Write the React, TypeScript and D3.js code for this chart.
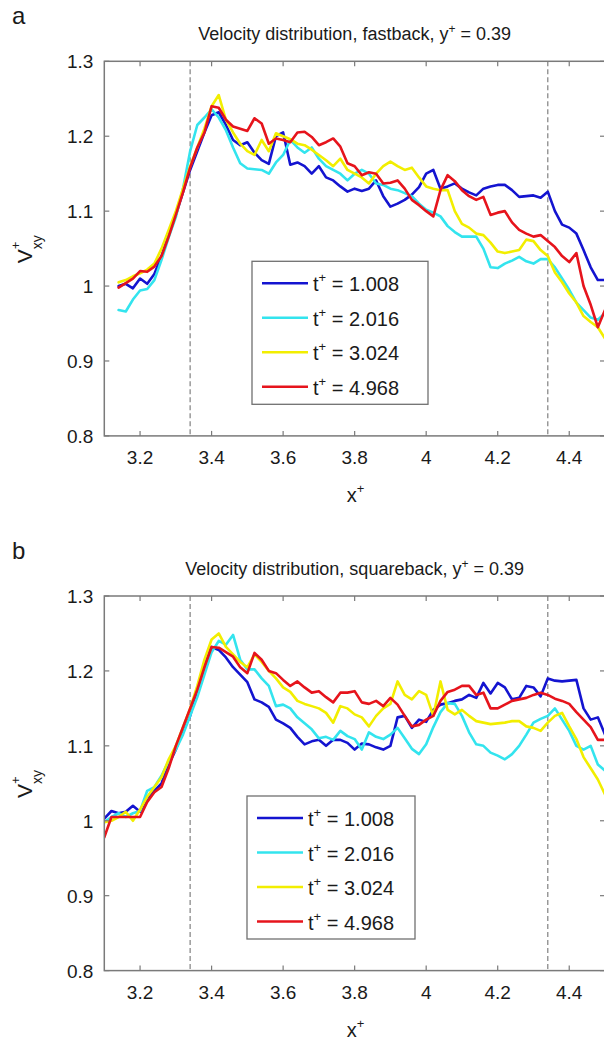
import React from "react";
import * as d3 from "d3";

// ---------- data ----------
const X_TOP = [3.14, 3.16, 3.18, 3.2, 3.22, 3.24, 3.26, 3.28, 3.3, 3.32, 3.34, 3.36, 3.38, 3.4, 3.42, 3.44, 3.46, 3.48, 3.5, 3.52, 3.54, 3.56, 3.58, 3.6, 3.62, 3.64, 3.66, 3.68, 3.7, 3.72, 3.74, 3.76, 3.78, 3.8, 3.82, 3.84, 3.86, 3.88, 3.9, 3.92, 3.94, 3.96, 3.98, 4.0, 4.02, 4.04, 4.06, 4.08, 4.1, 4.12, 4.14, 4.16, 4.18, 4.2, 4.22, 4.24, 4.26, 4.28, 4.3, 4.32, 4.34, 4.36, 4.38, 4.4, 4.42, 4.44, 4.46, 4.48, 4.5];

const TOP_T1 = [1.000, 1.003, 0.997, 1.010, 1.003, 1.016, 1.040, 1.068, 1.095, 1.125,
  1.155, 1.180, 1.205, 1.228, 1.232, 1.215, 1.195, 1.188, 1.192, 1.178,
  1.168, 1.163, 1.200, 1.205, 1.162, 1.165, 1.160, 1.150, 1.160, 1.145,
  1.141, 1.133, 1.126, 1.130, 1.127, 1.130, 1.141, 1.120, 1.106, 1.110,
  1.115, 1.122, 1.132, 1.150, 1.155, 1.130, 1.133, 1.137, 1.130, 1.125,
  1.121, 1.130, 1.133, 1.135, 1.135, 1.128, 1.119, 1.120, 1.121, 1.118,
  1.126, 1.100, 1.082, 1.078, 1.070, 1.048, 1.025, 1.008, 1.008];
const TOP_T2 = [0.968, 0.966, 0.982, 0.994, 0.996, 1.008, 1.035, 1.065, 1.092, 1.130,
  1.180, 1.215, 1.225, 1.236, 1.225, 1.208, 1.185, 1.164, 1.157, 1.156,
  1.155, 1.150, 1.165, 1.175, 1.195, 1.185, 1.178, 1.185, 1.170, 1.160,
  1.155, 1.150, 1.141, 1.150, 1.155, 1.150, 1.137, 1.135, 1.130, 1.128,
  1.124, 1.120, 1.110, 1.102, 1.098, 1.093, 1.080, 1.072, 1.066, 1.066,
  1.066, 1.050, 1.025, 1.024, 1.030, 1.034, 1.039, 1.033, 1.030, 1.036,
  1.036, 1.025, 1.010, 0.995, 0.978, 0.968, 0.958, 0.955, 0.964];
const TOP_T3 = [1.005, 1.008, 1.013, 1.017, 1.022, 1.030, 1.050, 1.075, 1.100, 1.130,
  1.160, 1.185, 1.210, 1.240, 1.255, 1.222, 1.205, 1.190, 1.180, 1.175,
  1.195, 1.180, 1.204, 1.200, 1.196, 1.190, 1.188, 1.182, 1.175, 1.168,
  1.160, 1.170, 1.155, 1.150, 1.145, 1.137, 1.150, 1.160, 1.166, 1.160,
  1.155, 1.158, 1.145, 1.133, 1.130, 1.128, 1.128, 1.100, 1.083, 1.078,
  1.070, 1.068, 1.058, 1.046, 1.044, 1.046, 1.048, 1.062, 1.060, 1.048,
  1.040, 1.018, 1.005, 0.990, 0.978, 0.960, 0.952, 0.945, 0.930];
const TOP_T4 = [0.998, 1.004, 1.010, 1.020, 1.019, 1.026, 1.040, 1.066, 1.095, 1.125,
  1.158, 1.185, 1.205, 1.240, 1.238, 1.222, 1.213, 1.210, 1.207, 1.224,
  1.217, 1.190, 1.197, 1.195, 1.192, 1.205, 1.206, 1.199, 1.188, 1.192,
  1.197, 1.186, 1.164, 1.160, 1.148, 1.152, 1.150, 1.137, 1.138, 1.141,
  1.130, 1.115, 1.108, 1.100, 1.093, 1.128, 1.148, 1.140, 1.128, 1.120,
  1.115, 1.119, 1.095, 1.098, 1.100, 1.085, 1.075, 1.070, 1.066, 1.068,
  1.060, 1.052, 1.040, 1.032, 1.044, 1.000, 0.975, 0.945, 0.968];

const X_BOTTOM = [3.1, 3.12, 3.14, 3.16, 3.18, 3.2, 3.22, 3.24, 3.26, 3.28, 3.3, 3.32, 3.34, 3.36, 3.38, 3.4, 3.42, 3.44, 3.46, 3.48, 3.5, 3.52, 3.54, 3.56, 3.58, 3.6, 3.62, 3.64, 3.66, 3.68, 3.7, 3.72, 3.74, 3.76, 3.78, 3.8, 3.82, 3.84, 3.86, 3.88, 3.9, 3.92, 3.94, 3.96, 3.98, 4.0, 4.02, 4.04, 4.06, 4.08, 4.1, 4.12, 4.14, 4.16, 4.18, 4.2, 4.22, 4.24, 4.26, 4.28, 4.3, 4.32, 4.34, 4.36, 4.38, 4.4, 4.42, 4.44, 4.46, 4.48, 4.5];

const BOT_T1 = [1.003, 1.013, 1.010, 1.012, 1.020, 1.012, 1.030, 1.040, 1.050, 1.075, 1.095,
  1.120, 1.140, 1.175, 1.205, 1.232, 1.228, 1.218, 1.205, 1.195, 1.185,
  1.162, 1.158, 1.152, 1.135, 1.130, 1.124, 1.112, 1.102, 1.106, 1.108,
  1.100, 1.108, 1.108, 1.104, 1.095, 1.103, 1.102, 1.098, 1.095, 1.100,
  1.138, 1.140, 1.124, 1.135, 1.132, 1.148, 1.155, 1.157, 1.160, 1.162,
  1.168, 1.164, 1.184, 1.170, 1.184, 1.178, 1.162, 1.164, 1.180, 1.178,
  1.166, 1.190, 1.187, 1.186, 1.187, 1.188, 1.150, 1.135, 1.138, 1.115];
const BOT_T2 = [0.998, 1.005, 1.010, 1.005, 1.010, 1.013, 1.040, 1.045, 1.060, 1.080, 1.095,
  1.115, 1.140, 1.165, 1.195, 1.225, 1.240, 1.235, 1.248, 1.215, 1.202,
  1.202, 1.190, 1.180, 1.153, 1.155, 1.150, 1.138, 1.130, 1.122, 1.110,
  1.112, 1.108, 1.120, 1.113, 1.109, 1.095, 1.118, 1.112, 1.109, 1.115,
  1.124, 1.110, 1.096, 1.089, 1.102, 1.125, 1.145, 1.157, 1.156, 1.140,
  1.118, 1.102, 1.100, 1.091, 1.087, 1.082, 1.089, 1.100, 1.115, 1.131,
  1.136, 1.140, 1.150, 1.135, 1.120, 1.100, 1.095, 1.100, 1.075, 1.067];
const BOT_T3 = [0.998, 1.000, 1.005, 1.012, 1.000, 1.015, 1.032, 1.045, 1.058, 1.082, 1.100,
  1.125, 1.150, 1.180, 1.215, 1.242, 1.250, 1.232, 1.222, 1.212, 1.205,
  1.222, 1.212, 1.200, 1.190, 1.178, 1.172, 1.160, 1.156, 1.153, 1.150,
  1.144, 1.131, 1.153, 1.150, 1.142, 1.138, 1.126, 1.140, 1.150, 1.156,
  1.186, 1.168, 1.162, 1.173, 1.168, 1.140, 1.186, 1.148, 1.142, 1.148,
  1.140, 1.133, 1.131, 1.129, 1.130, 1.131, 1.133, 1.133, 1.126, 1.124,
  1.120, 1.131, 1.140, 1.144, 1.126, 1.109, 1.085, 1.070, 1.055, 1.035];
const BOT_T4 = [0.978, 1.005, 1.005, 1.005, 1.005, 1.005, 1.025, 1.038, 1.045, 1.070, 1.100,
  1.125, 1.150, 1.175, 1.205, 1.232, 1.231, 1.225, 1.219, 1.205, 1.197,
  1.224, 1.215, 1.200, 1.197, 1.188, 1.180, 1.186, 1.178, 1.171, 1.173,
  1.165, 1.158, 1.171, 1.171, 1.173, 1.158, 1.156, 1.160, 1.153, 1.164,
  1.155, 1.140, 1.126, 1.128, 1.135, 1.140, 1.160, 1.172, 1.175, 1.180,
  1.180, 1.168, 1.171, 1.150, 1.150, 1.155, 1.160, 1.162, 1.164, 1.168,
  1.171, 1.168, 1.163, 1.160, 1.156, 1.145, 1.135, 1.125, 1.108, 1.108];

const SERIES_LABELS = ["1.008", "2.016", "3.024", "4.968"];
const X_TICKS = [3.2, 3.4, 3.6, 3.8, 4.0, 4.2, 4.4];
const X_TICK_LABELS = ["3.2", "3.4", "3.6", "3.8", "4", "4.2", "4.4"];
const Y_TICKS = [0.8, 0.9, 1.0, 1.1, 1.2, 1.3];
const Y_TICK_LABELS = ["0.8", "0.9", "1", "1.1", "1.2", "1.3"];
const REF_LINES = [3.34, 4.34];
const X_DOMAIN = [3.1, 4.5];
const Y_DOMAIN = [0.8, 1.3];

// ---------- styles ----------
const COLORS = ["#1414d0", "#33e4ee", "#f2ee00", "#e6141c"];
const FONT = "'Liberation Sans', Arial, Helvetica, sans-serif";
const AXIS_COLOR = "#7a7a7a";
const TEXT_COLOR = "#1a1a1a";

const PLOT_LEFT = 104.3;
const PLOT_RIGHT = 605;
const PLOT_H = 374.6;

type PanelProps = {
  top: number;
  letter: string;
  title: string;
  xs: number[];
  series: number[][];
  legendLeft: number;
  legendRight: number;
  id: string;
};

function Panel({ top, letter, title, xs, series, legendLeft, legendRight, id }: PanelProps) {
  const x = d3.scaleLinear().domain(X_DOMAIN).range([PLOT_LEFT, PLOT_RIGHT]);
  const y = d3.scaleLinear().domain(Y_DOMAIN).range([top + PLOT_H, top]);
  const bottom = top + PLOT_H;
  const line = d3
    .line<[number, number]>()
    .x((d) => x(d[0]))
    .y((d) => y(d[1]));
  const cx = (PLOT_LEFT + PLOT_RIGHT) / 2;
  const tick = 5;

  const legTop = top + 200;
  const legBottom = top + 343;
  const rowY = (i: number) => top + 222 + i * 34.5;

  return (
    <g>
      <defs>
        <clipPath id={id}>
          <rect x={PLOT_LEFT} y={top} width={PLOT_RIGHT - PLOT_LEFT} height={PLOT_H} />
        </clipPath>
      </defs>
      <text x={12} y={top - 37} fontSize={24} fontFamily={FONT} fill={TEXT_COLOR}>
        {letter}
      </text>
      <text x={cx} y={top - 21} fontSize={18} fontFamily={FONT} fill={TEXT_COLOR} textAnchor="middle">
        {title}
        <tspan dy={-7} fontSize={12}>+</tspan>
        <tspan dy={7}> = 0.39</tspan>
      </text>

      {/* reference dashed lines */}
      {REF_LINES.map((v) => (
        <line key={v} x1={x(v)} x2={x(v)} y1={top} y2={bottom} stroke="#8a8a8a" strokeWidth={1.3} strokeDasharray="5,3" />
      ))}

      {/* data lines */}
      <g clipPath={`url(#${id})`}>
        {series.map((vals, i) => (
          <path
            key={i}
            d={line(xs.map((xv, j) => [xv, vals[j]] as [number, number])) || ""}
            fill="none"
            stroke={COLORS[i]}
            strokeWidth={2.6}
            strokeLinejoin="round"
            strokeLinecap="round"
          />
        ))}
      </g>

      {/* frame */}
      <rect x={PLOT_LEFT} y={top} width={PLOT_RIGHT - PLOT_LEFT} height={PLOT_H} fill="none" stroke={AXIS_COLOR} strokeWidth={1.5} />

      {/* x ticks */}
      {X_TICKS.map((v, i) => (
        <g key={v}>
          <line x1={x(v)} x2={x(v)} y1={bottom} y2={bottom - tick} stroke={AXIS_COLOR} strokeWidth={1.2} />
          <line x1={x(v)} x2={x(v)} y1={top} y2={top + tick} stroke={AXIS_COLOR} strokeWidth={1.2} />
          <text x={x(v)} y={bottom + 28} fontSize={19} fontFamily={FONT} fill={TEXT_COLOR} textAnchor="middle">
            {X_TICK_LABELS[i]}
          </text>
        </g>
      ))}
      {/* y ticks */}
      {Y_TICKS.map((v, i) => (
        <g key={v}>
          <line x1={PLOT_LEFT} x2={PLOT_LEFT + tick} y1={y(v)} y2={y(v)} stroke={AXIS_COLOR} strokeWidth={1.2} />
          <line x1={PLOT_RIGHT} x2={PLOT_RIGHT - tick} y1={y(v)} y2={y(v)} stroke={AXIS_COLOR} strokeWidth={1.2} />
          <text x={PLOT_LEFT - 11} y={y(v) + 7} fontSize={19} fontFamily={FONT} fill={TEXT_COLOR} textAnchor="end">
            {Y_TICK_LABELS[i]}
          </text>
        </g>
      ))}

      {/* axis labels */}
      <text x={cx - 8} y={bottom + 66} fontSize={20} fontFamily={FONT} fill={TEXT_COLOR}>
        x<tspan dy={-9} fontSize={13}>+</tspan>
      </text>
      <g transform={`translate(32, ${top + 192}) rotate(-90)`} fontFamily={FONT} fill={TEXT_COLOR}>
        <text x={-10} y={0} fontSize={21}>V</text>
        <text x={4} y={-12} fontSize={13}>+</text>
        <text x={4} y={10} fontSize={14}>xy</text>
      </g>

      {/* legend */}
      <rect x={legendLeft} y={legTop} width={legendRight - legendLeft} height={legBottom - legTop} fill="#ffffff" stroke="#707070" strokeWidth={1.3} />
      {SERIES_LABELS.map((lab, i) => (
        <g key={lab}>
          <line x1={legendLeft + 10} x2={legendLeft + 56} y1={rowY(i)} y2={rowY(i)} stroke={COLORS[i]} strokeWidth={2.6} />
          <text x={legendLeft + 61} y={rowY(i) + 8} fontSize={20} fontFamily={FONT} fill={TEXT_COLOR}>
            t<tspan dy={-9} fontSize={13}>+</tspan>
            <tspan dy={9}> = {lab}</tspan>
          </text>
        </g>
      ))}
    </g>
  );
}

export default function App() {
  return (
    <svg
      width={604}
      height={1050}
      style={{ position: "absolute", left: 0, top: 0, background: "#ffffff" }}
    >
      <rect x={0} y={0} width={604} height={1050} fill="#ffffff" />
      <Panel
        top={61.3}
        letter="a"
        title="Velocity distribution, fastback, y"
        xs={X_TOP}
        series={[TOP_T1, TOP_T2, TOP_T3, TOP_T4]}
        legendLeft={252}
        legendRight={428}
        id="clipA"
      />
      <Panel
        top={596}
        letter="b"
        title="Velocity distribution, squareback, y"
        xs={X_BOTTOM}
        series={[BOT_T1, BOT_T2, BOT_T3, BOT_T4]}
        legendLeft={247}
        legendRight={415}
        id="clipB"
      />
    </svg>
  );
}
